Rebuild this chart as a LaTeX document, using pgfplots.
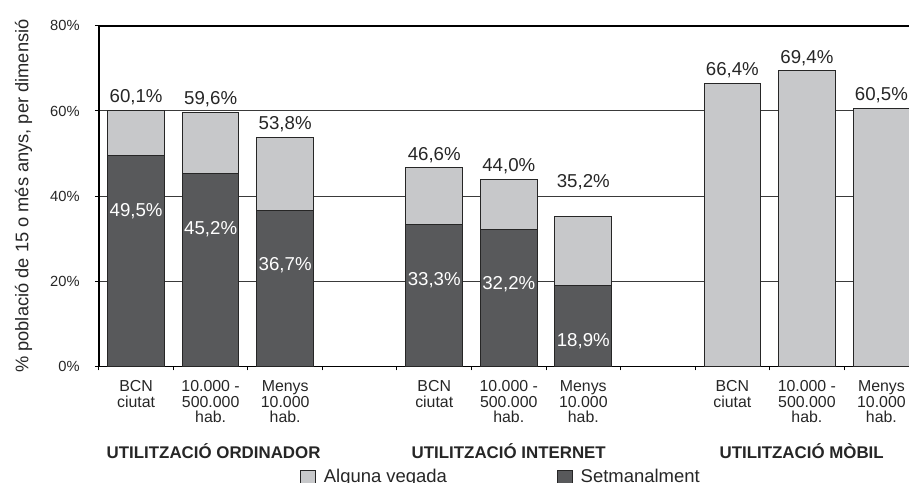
\documentclass[border=0pt]{standalone}
\usepackage{fontspec}
\setmainfont{Liberation Sans}
\usepackage{pgfplots}
\pgfplotsset{compat=1.18}
\usepackage{pgfplotstable}
\definecolor{fosc}{HTML}{58595B}
\definecolor{clar}{HTML}{C7C8CA}
\definecolor{graella}{HTML}{3A3A3A}

% x: posicio de la barra; tot: alguna vegada (total); set: setmanalment; dy: despl. etiqueta (pt)
\pgfplotstableread{
x  tot   set   dy
0  60.1  49.5  0
1  59.6  45.2  0
2  53.8  36.7  0
4  46.6  33.3  0
5  44.0  32.2  0
6  35.2  18.9  10.5
8  66.4  0     0
9  69.4  0     0
10 60.5  0     0
}\dades

\begin{document}
\pgfkeys{/pgf/number format/.cd,fixed,fixed zerofill,precision=1,use comma,assume math mode=true}
\begin{tikzpicture}
\begin{axis}[
  scale only axis, width=408pt, height=171.5pt,
  ybar=0pt, bar shift=0pt, bar width=0.76,
  xmin=-0.5, xmax=10.37, ymin=0, ymax=80,
  clip=false,
  axis x line*=bottom, axis y line*=left,
  axis line style={-, black, line width=0.8pt},
  ytick={0,20,40,60,80}, yticklabels={0\%,20\%,40\%,60\%,80\%},
  yticklabel style={font=\fontsize{7.4}{8}\selectfont, inner sep=0pt, xshift=-7.5pt, text=black!85},
  ymajorgrids, grid style={graella, line width=0.5pt},
  xtick={-0.5,0.5,...,9.5}, xticklabels={},
  tick align=outside, major tick length=2pt, tick style={black, line width=0.5pt},
  extra x ticks={0,1,2,4,5,6,8,9,10},
  extra x tick labels={{BCN\\ciutat},{10.000 -\\500.000\\hab.},{Menys\\10.000\\hab.},
                       {BCN\\ciutat},{10.000 -\\500.000\\hab.},{Menys\\10.000\\hab.},
                       {BCN\\ciutat},{10.000 -\\500.000\\hab.},{Menys\\10.000\\hab.}},
  extra x tick style={major tick length=0pt,
     xticklabel style={align=center, font=\fontsize{8}{7.8}\selectfont, inner sep=0pt, yshift=-7pt, text=black!85}},
  ylabel={\% població de 15 o més anys, per dimensió},
  ylabel style={at={(axis description cs:-0.0931,0.5)}, anchor=center, font=\fontsize{9.2}{11}\selectfont, text=black!85},
  legend columns=2,
  legend image code/.code={\draw[#1, line width=0.5pt] (0pt,-3.75pt) rectangle (7.5pt,3.75pt);},
  legend style={at={(rel axis cs:0.2488,0)}, anchor=west, yshift=-56pt,
     draw=none, fill=none, inner sep=0pt, outer sep=0pt,
     nodes={inner sep=0pt, font=\fontsize{9.3}{11}\selectfont, text=black!85},
     /tikz/every odd column/.append style={column sep=3.8pt},
     /tikz/every even column/.append style={column sep=55.5pt}},
]
\addplot[fill=clar, draw=black!85, line width=0.5pt,
  point meta=\thisrow{tot},
  visualization depends on={\thisrow{dy}\as\dy},
  nodes near coords={\pgfmathprintnumber{\pgfplotspointmeta}\%},
  nodes near coords style={black!85, font=\fontsize{9.4}{11}\selectfont, inner sep=0pt, yshift=2.5pt+\dy pt}]
  table[x=x, y=tot] {\dades};
\addlegendentry{Alguna vegada}
\addplot[fill=fosc, draw=black!85, line width=0.5pt,
  restrict x to domain=0:6,
  point meta=\thisrow{set},
  nodes near coords={\pgfmathprintnumber{\pgfplotspointmeta}\%},
  nodes near coords style={white, font=\fontsize{9.4}{11}\selectfont, inner sep=0pt, yshift=-32pt}]
  table[x=x, y=set] {\dades};
\addlegendentry{Setmanalment}

\draw[black, line width=1pt] (rel axis cs:0,1) -- (rel axis cs:1,1);
\node[font=\bfseries\fontsize{8.5}{10}\selectfont, anchor=base, text=black!85] at ([yshift=-46.5pt]axis cs:1.04,0) {UTILITZACIÓ ORDINADOR};
\node[font=\bfseries\fontsize{8.5}{10}\selectfont, anchor=base, text=black!85] at ([yshift=-46.5pt]axis cs:5,0) {UTILITZACIÓ INTERNET};
\node[font=\bfseries\fontsize{8.5}{10}\selectfont, anchor=base, text=black!85] at ([yshift=-46.5pt]axis cs:8.93,0) {UTILITZACIÓ MÒBIL};
\coordinate (SW) at (rel axis cs:0,0);
\coordinate (NE) at (rel axis cs:1,1);
\end{axis}
\pgfresetboundingbox
\path[use as bounding box] ([xshift=-47pt,yshift=-58.5pt]SW) rectangle ([yshift=13pt]NE);
\end{tikzpicture}
\end{document}
